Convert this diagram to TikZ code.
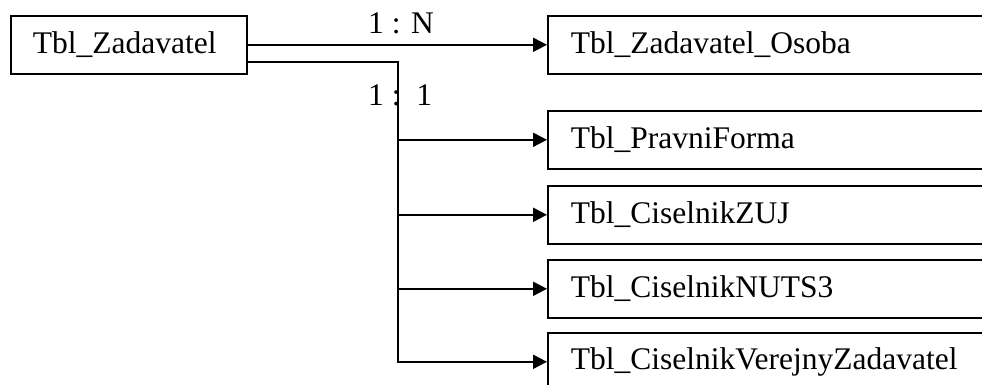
\documentclass[tikz,border=0pt]{standalone}
\usepackage{fontspec}
\setmainfont{Liberation Serif}
\usetikzlibrary{arrows.meta}
\begin{document}
\begin{tikzpicture}[x=1pt,y=-1pt,
  font=\fontsize{31.5}{36}\selectfont,
  tbl/.style={draw, line width=1.6pt, anchor=north west, minimum height=58pt,
    inner xsep=23pt, inner ysep=0pt, align=left},
  conn/.style={line width=1.9pt},
  arr/.style={conn, -{Triangle[length=14pt,width=14pt]}},
  card/.style={anchor=base west, inner sep=0pt}]
\useasboundingbox (0,0) rectangle (982,385);
\clip (0,0) rectangle (982,385);
\node[tbl, text width=192pt, inner xsep=22pt] (zad) at (10,15) {Tbl\_Zadavatel};
\node[tbl, text width=434pt] (osoba) at (547,15) {Tbl\_Zadavatel\_Osoba};
\node[tbl, text width=434pt] (pravni) at (547,110) {Tbl\_PravniForma};
\node[tbl, text width=434pt] (zuj) at (547,185) {Tbl\_CiselnikZUJ};
\node[tbl, text width=434pt] (nuts) at (547,259) {Tbl\_CiselnikNUTS3};
\node[tbl, text width=434pt] (verejny) at (547,332) {Tbl\_CiselnikVerejnyZadavatel};
\node[card] (l1n) at (368,34) {1 : N};
\node[card] (l11) at (368,106) {1 :\ \ 1};
\coordinate (j) at (398,62);
\draw[arr] (zad.east) -- (osoba.west);
\draw[conn] (zad.east |- j) -- (j) -- (j |- verejny.west);
\draw[arr] (j |- pravni.west) -- (pravni.west);
\draw[arr] (j |- zuj.west) -- (zuj.west);
\draw[arr] (j |- nuts.west) -- (nuts.west);
\draw[arr] ([xshift=-0.95pt]j |- verejny.west) -- (verejny.west);
\end{tikzpicture}
\end{document}
